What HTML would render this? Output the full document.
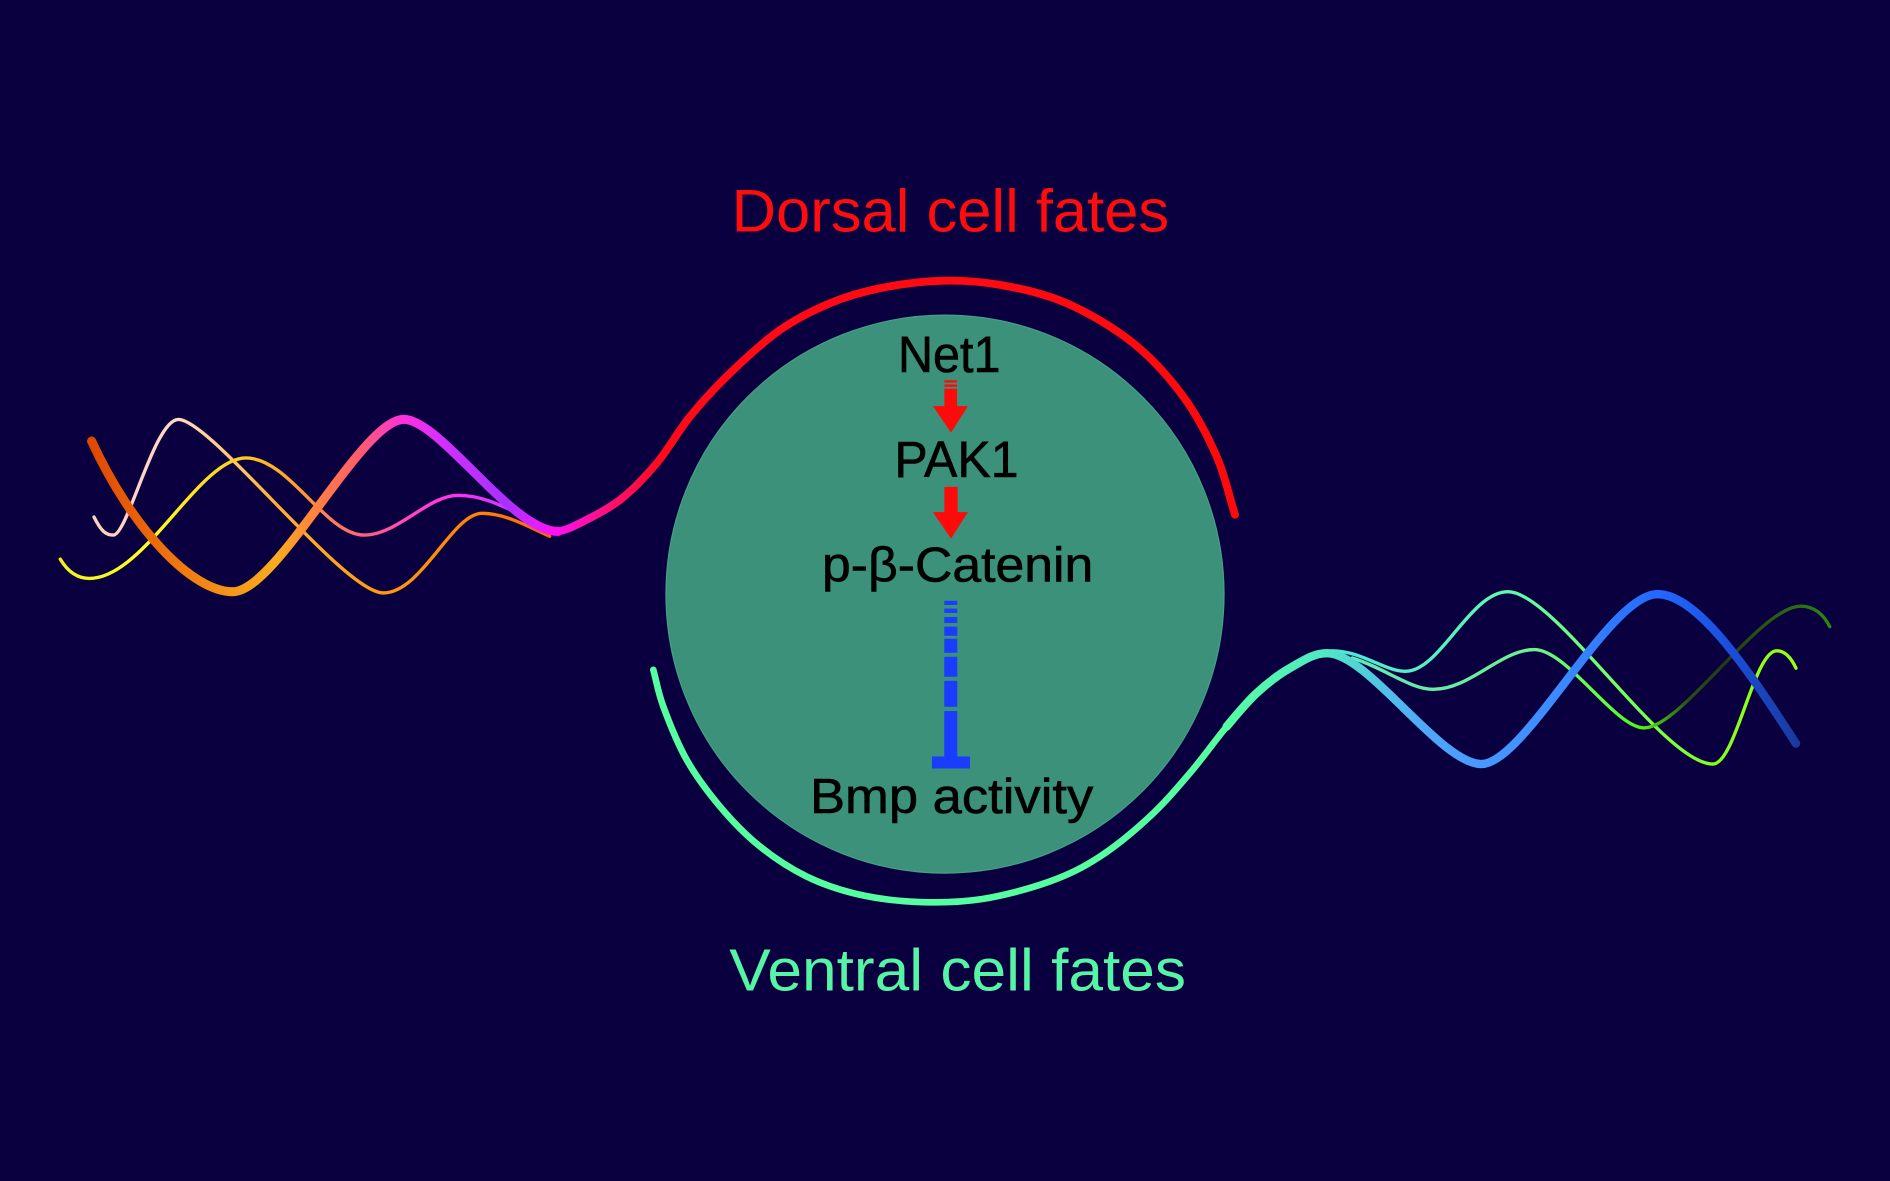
<!DOCTYPE html>
<html>
<head>
<meta charset="utf-8">
<style>
html,body{margin:0;padding:0;background:#0a0040;}
svg{display:block;}
text{font-family:"Liberation Sans",Arial,sans-serif;}
</style>
</head>
<body>
<svg width="1890" height="1181" viewBox="0 0 1568 980" preserveAspectRatio="none" xmlns="http://www.w3.org/2000/svg">
<defs>
<linearGradient id="gThickL" gradientUnits="userSpaceOnUse" x1="76" y1="0" x2="463" y2="0">
<stop offset="0" stop-color="#e04800"/>
<stop offset="0.191" stop-color="#f07810"/>
<stop offset="0.302" stop-color="#f59818"/>
<stop offset="0.398" stop-color="#fcaa20"/>
<stop offset="0.484" stop-color="#ff8040"/>
<stop offset="0.579" stop-color="#ff5a70"/>
<stop offset="0.669" stop-color="#ff30e0"/>
<stop offset="0.760" stop-color="#d030ff"/>
<stop offset="0.889" stop-color="#a830ff"/>
<stop offset="0.953" stop-color="#e020ff"/>
<stop offset="1" stop-color="#ff10f0"/>
</linearGradient>
<linearGradient id="gRed" gradientUnits="userSpaceOnUse" x1="463" y1="0" x2="1024" y2="0">
<stop offset="0" stop-color="#ff10f0"/>
<stop offset="0.066" stop-color="#ff1080"/>
<stop offset="0.155" stop-color="#ff0a18"/>
<stop offset="1" stop-color="#ff0a0a"/>
</linearGradient>
<linearGradient id="gPeach" gradientUnits="userSpaceOnUse" x1="78" y1="0" x2="456" y2="0">
<stop offset="0" stop-color="#ffd0c0"/>
<stop offset="0.185" stop-color="#ffd8c8"/>
<stop offset="0.296" stop-color="#ffc878"/>
<stop offset="0.402" stop-color="#ffb030"/>
<stop offset="0.635" stop-color="#ff9a10"/>
<stop offset="0.852" stop-color="#ff8008"/>
<stop offset="1" stop-color="#ff6400"/>
</linearGradient>
<linearGradient id="gYellow" gradientUnits="userSpaceOnUse" x1="50" y1="0" x2="441" y2="0">
<stop offset="0" stop-color="#f0f020"/>
<stop offset="0.179" stop-color="#ffff20"/>
<stop offset="0.394" stop-color="#ffc820"/>
<stop offset="0.512" stop-color="#ff9830"/>
<stop offset="0.645" stop-color="#ff6080"/>
<stop offset="0.767" stop-color="#ff40d0"/>
<stop offset="0.844" stop-color="#ff30f0"/>
<stop offset="1" stop-color="#b040ff"/>
</linearGradient>
<linearGradient id="gThickR" gradientUnits="userSpaceOnUse" x1="1018" y1="0" x2="1490" y2="0">
<stop offset="0" stop-color="#55ffa0"/>
<stop offset="0.175" stop-color="#50e8c4"/>
<stop offset="0.258" stop-color="#50c8e0"/>
<stop offset="0.343" stop-color="#50a8f8"/>
<stop offset="0.447" stop-color="#4898ff"/>
<stop offset="0.597" stop-color="#3a88ff"/>
<stop offset="0.756" stop-color="#2468ff"/>
<stop offset="0.873" stop-color="#1a50e0"/>
<stop offset="1" stop-color="#1a3aa0"/>
</linearGradient>
<linearGradient id="gAqua" gradientUnits="userSpaceOnUse" x1="1105" y1="0" x2="1490" y2="0">
<stop offset="0" stop-color="#48e8d8"/>
<stop offset="0.379" stop-color="#60f8b0"/>
<stop offset="0.569" stop-color="#70ff70"/>
<stop offset="0.821" stop-color="#80ff20"/>
<stop offset="1" stop-color="#9aff10"/>
</linearGradient>
<linearGradient id="gGreen" gradientUnits="userSpaceOnUse" x1="1122" y1="0" x2="1518" y2="0">
<stop offset="0" stop-color="#60e8b8"/>
<stop offset="0.381" stop-color="#70f090"/>
<stop offset="0.525" stop-color="#60ff40"/>
<stop offset="0.611" stop-color="#50f010"/>
<stop offset="0.702" stop-color="#2a5010"/>
<stop offset="0.778" stop-color="#223a10"/>
<stop offset="0.939" stop-color="#2a7010"/>
<stop offset="1" stop-color="#2a8a10"/>
</linearGradient>
</defs>

<rect x="0" y="0" width="1568" height="980" fill="#0a0040"/>

<!-- central circle -->
<circle cx="784" cy="493" r="231.5" fill="#3b917a" stroke="#45a085" stroke-width="1"/>

<!-- left thin curves -->
<path d="M78 429 C84 441,88 444,94 444 C106 444,128 348,148 348 C175 348,285 492,318 492 C350 492,375 426,400 426 C420 426,440 438,456 445" fill="none" stroke="url(#gPeach)" stroke-width="2.8" stroke-linecap="round"/>
<path d="M50 464 C56 474,64 480,74 480 C120 480,165 380,204 380 C240 380,270 444,302 444 C330 444,355 411,380 411 C405 411,425 425,441 431" fill="none" stroke="url(#gYellow)" stroke-width="2.8" stroke-linecap="round"/>

<!-- left thick wave -->
<path d="M76 366 C110 440,160 491,193 491 C230 491,300 348,335 348 C365 348,425 441,463 441" fill="none" stroke="url(#gThickL)" stroke-width="7.5" stroke-linecap="round"/>

<!-- dorsal red arc -->
<path d="M463 441 C469 439.85,472.6 438.5,481.2 434.1 C489.8 429.7,503.8 423.1,514.4 414.8 C525 406.5,535.1 395.9,544.8 384.4 C554.5 372.9,562.3 358.15,572.4 345.7 C582.5 333.25,593.15 321.7,605.6 309.7 C618.05 297.7,633.3 283.5,647.1 273.8 C660.9 264.1,674.8 257.4,688.6 251.6 C702.4 245.8,714.8 242.3,730 239.2 C745.2 236.1,763.4 233.5,780 233 C796.6 232.5,812.1 233.3,829.6 236.4 C847.1 239.5,866.5 243.5,884.9 251.6 C903.3 259.7,924.1 271.9,940.2 284.8 C956.3 297.7,970.2 313.4,981.7 329.1 C993.2 344.8,1002.25 362.55,1009.4 378.9 C1016.55 395.25,1019.5 411.1,1024.6 427.2" fill="none" stroke="url(#gRed)" stroke-width="6.5" stroke-linecap="round"/>

<!-- right thin curves -->
<path d="M1105 540 C1130 540,1150 558,1167 557 C1195 556,1220 491,1251 491 C1290 491,1380 634,1421 634 C1440 634,1455 540,1474 540 C1482 540,1487 548,1490 554.5" fill="none" stroke="url(#gAqua)" stroke-width="2.8" stroke-linecap="round"/>
<path d="M1122 546 C1150 555,1170 572,1189 572 C1220 572,1245 539,1273 539 C1300 539,1340 604,1364 604 C1395 604,1460 503,1494 503 C1505 503,1513 510,1518 520" fill="none" stroke="url(#gGreen)" stroke-width="2.8" stroke-linecap="round"/>

<!-- ventral arc -->
<path d="M542 555.8 C544.8 566,545.7 573.85,550.3 586.3 C554.9 598.75,561.9 616.7,569.7 630.5 C577.5 644.3,587.2 657.2,597.3 669.2 C607.4 681.2,618.5 692.7,630.5 702.4 C642.5 712.1,655.4 720.6,669.2 727.3 C683 734,697.8 739,713.5 742.5 C729.2 746,746.3 747.9,763.2 748.5 C780.1 749.1,797 748.85,815 746 C833 743.15,854.8 737.3,871.1 731.4 C887.4 725.5,898.8 719.7,912.6 710.7 C926.4 701.7,941.6 689,954 677.5 C966.4 666,976.6 653.9,987.2 641.5 C997.8 629.1,1008.5 613.95,1017.7 602.9" fill="none" stroke="#55ff9f" stroke-width="5.5" stroke-linecap="round"/>

<!-- right thick wave -->
<path d="M1017.7 602.9 C1026.9 591.85,1033.75 583.3,1042.5 575.2 C1051.25 567.1,1060.45 559.9,1070.2 554.4 C1079.95 548.9,1089 542,1101 542 C1135 542,1195 634,1229 634 C1265 634,1335 493,1375 493 C1408 493,1450 555,1490 617" fill="none" stroke="url(#gThickR)" stroke-width="7" stroke-linecap="round"/>

<!-- titles -->
<text x="607" y="192" font-size="50" fill="#ff0d0d" textLength="363" lengthAdjust="spacingAndGlyphs">Dorsal cell fates</text>
<text x="605" y="822" font-size="49" fill="#55f5a5" textLength="379" lengthAdjust="spacingAndGlyphs">Ventral cell fates</text>

<!-- pathway labels -->
<g fill="#000" stroke="#000" stroke-width="0.5">
<text x="745" y="308.5" font-size="42" textLength="85" lengthAdjust="spacingAndGlyphs">Net1</text>
<text x="742" y="396" font-size="42" textLength="103" lengthAdjust="spacingAndGlyphs">PAK1</text>
<text x="682" y="482.6" font-size="41" textLength="225" lengthAdjust="spacingAndGlyphs">p-β-Catenin</text>
<text x="672" y="674.8" font-size="41" textLength="235" lengthAdjust="spacingAndGlyphs">Bmp activity</text>
</g>

<!-- red arrows -->
<g fill="#ff0a0a">
<rect x="783.5" y="315.5" width="10.5" height="2"/>
<rect x="783.5" y="319" width="10.5" height="2"/>
<rect x="783.5" y="322.5" width="10.5" height="15"/>
<polygon points="774,337 803,337 789,359"/>
<rect x="783.5" y="404" width="11" height="22"/>
<polygon points="774,425 803,425 789,447"/>
</g>

<!-- blue inhibition -->
<g fill="#1a3cff">
<rect x="783.4" y="498.6" width="10.8" height="3.4"/>
<rect x="783.4" y="505" width="10.8" height="3.6"/>
<rect x="783.4" y="512" width="10.8" height="5"/>
<rect x="783.4" y="520" width="10.8" height="7.6"/>
<rect x="783.4" y="530" width="10.8" height="11.7"/>
<rect x="783.4" y="545" width="10.8" height="16.6"/>
<rect x="783.4" y="565" width="10.8" height="21.5"/>
<rect x="783.4" y="590" width="10.8" height="38.5"/>
<rect x="773.2" y="627.7" width="31.5" height="10"/>
</g>
</svg>
</body>
</html>
